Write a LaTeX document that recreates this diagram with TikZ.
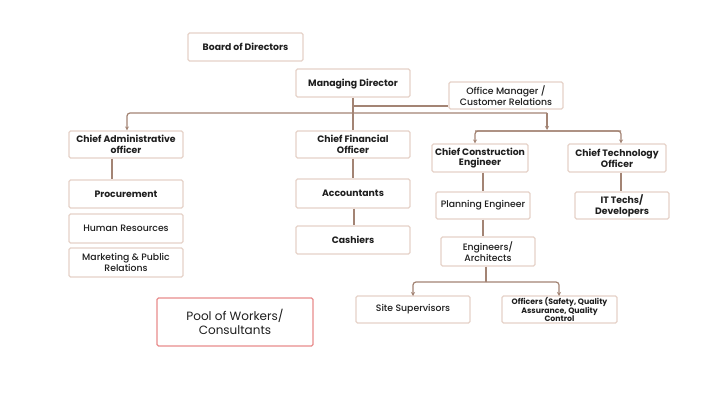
\documentclass[tikz,border=0pt]{standalone}
\usepackage{fontspec}
\setmainfont{Poppins}[FontFace={mb}{n}{Poppins Medium}]
\usetikzlibrary{arrows.meta}
\definecolor{boxline}{HTML}{E6D2C8}
\definecolor{conn}{HTML}{A38474}
\definecolor{poolline}{HTML}{E88C8C}
\definecolor{txt}{HTML}{1E1E1E}
\tikzset{
  box/.style={draw=boxline, line width=1.1pt, rounded corners=1.5pt, fill=white,
    align=center, inner sep=0pt, text=txt, font=\fontsize{9.3}{10.8}\selectfont\fontseries{mb}\selectfont},
  bbox/.style={box, font=\fontsize{9.3}{10.8}\selectfont\bfseries},
  conline/.style={draw=conn, line width=1.2pt, rounded corners=3pt},
  arr/.style={conline, -{Stealth[length=4pt,width=4pt]}},
}
\begin{document}
\begin{tikzpicture}[x=1pt,y=-1pt]
\useasboundingbox[fill=white] (0,0) rectangle (706,402);
% nodes
\node[bbox, minimum width=115pt, minimum height=28pt] (bod) at (245.5,47) {Board of Directors};
\node[bbox, minimum width=114pt, minimum height=28pt, text depth=-4pt] (md) at (353,83) {Managing Director};
\node[box, minimum width=114pt, minimum height=27pt] (om) at (506,95.5) {Office Manager /\\Customer Relations};
\node[bbox, minimum width=114pt, minimum height=27pt] (cao) at (126,144.5) {Chief Administrative\\officer};
\node[bbox, minimum width=114pt, minimum height=27pt] (cfo) at (353,144.5) {Chief Financial\\Officer};
\node[bbox, minimum width=96pt, minimum height=28pt] (cce) at (480,158) {Chief Construction\\Engineer};
\node[bbox, minimum width=98pt, minimum height=28pt] (cto) at (617,158) {Chief Technology\\Officer};
\node[box, minimum width=94pt, minimum height=27pt] (pe) at (483,205.5) {Planning Engineer};
\node[bbox, minimum width=94pt, minimum height=27pt] (it) at (622,205.5) {IT Techs/\\Developers};
\node[box, minimum width=94pt, minimum height=29pt] (ea) at (488,251.5) {Engineers/\\Architects};
\node[box, minimum width=114pt, minimum height=27pt] (ss) at (413,309.5) {Site Supervisors};
\node[bbox, minimum width=115pt, minimum height=27pt, font=\fontsize{7.8}{8.6}\selectfont\bfseries] (off) at (559.5,309.5) {Officers (Safety, Quality\\Assurance, Quality\\Control};
\node[bbox, minimum width=114pt, minimum height=28pt] (proc) at (126,194) {Procurement};
\node[box, minimum width=114pt, minimum height=29pt] (hr) at (126,228.5) {Human Resources};
\node[box, minimum width=114pt, minimum height=29pt] (mkt) at (126,262.5) {Marketing \& Public\\Relations};
\node[bbox, minimum width=114pt, minimum height=29pt] (acc) at (353,193.5) {Accountants};
\node[bbox, minimum width=114pt, minimum height=28pt] (cash) at (353,240) {Cashiers};
\node[box, draw=poolline, minimum width=156pt, minimum height=48pt, font=\fontsize{12}{13.5}\selectfont] (pool) at (235,322) {Pool of Workers/\\Consultants};
% junction coordinates
\coordinate (j1) at (353,106);
\coordinate (busL) at (127,113);
\coordinate (busR) at (547,113);
\coordinate (busRend) at (547,130);
\coordinate (bus2L) at (475,131);
\coordinate (bus2R) at (621,131);
\coordinate (j2) at (486,282);
\coordinate (ssTop) at (413,296);
\coordinate (offTop) at (559,296);
% connectors
\draw[conline] (md.south) -- (cfo.north);
\draw[conline] (j1) -- (j1 -| om.west);
\draw[arr] (busR) -- (busRend);
\draw[arr] (busR) -| (busL |- cao.north);
\draw[arr] (bus2R |- bus2L) -| (bus2L |- cce.north);
\draw[arr] (bus2L) -| (bus2R |- cto.north);
\draw[conline] (cce.south -| 483,0) -- (pe.north -| 483,0);
\draw[conline] (pe.south -| 483,0) -- (ea.north -| 483,0);
\draw[conline] (ea.south -| j2) -- (j2);
\draw[arr] (j2) -| (ssTop);
\draw[arr] (j2) -| (offTop);
\draw[conline] (cto.south -| 621,0) -- (it.north -| 621,0);
\draw[conline] (cao.south -| 112,0) -- (proc.north -| 112,0);
\draw[conline] (cfo.south) -- (acc.north);
\draw[conline] (acc.south -| 354,0) -- (cash.north -| 354,0);
\end{tikzpicture}
\end{document}
